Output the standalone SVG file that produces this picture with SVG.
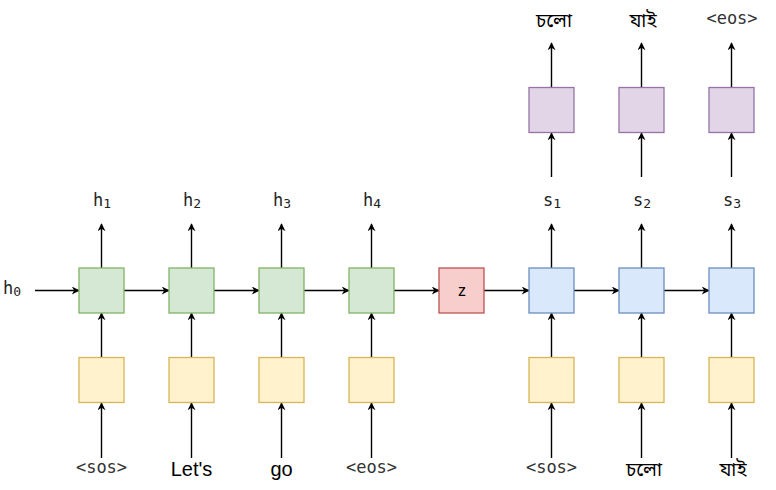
<svg xmlns="http://www.w3.org/2000/svg" width="776" height="490" viewBox="0 0 776 490">
<style>
.g{fill:#d5e8d4;stroke:#82b366;stroke-width:1.3}
.y{fill:#fff2cc;stroke:#d6b656;stroke-width:1.3}
.b{fill:#dae8fc;stroke:#6c8ebf;stroke-width:1.3}
.r{fill:#f8cecc;stroke:#b85450;stroke-width:1.3}
.p{fill:#e1d5e7;stroke:#9673a6;stroke-width:1.3}
.c line{stroke:#000;stroke-width:1.4;marker-end:url(#ah)}
.m{font-family:"DejaVu Sans Mono","Liberation Mono",monospace;font-size:17px;fill:#222;text-anchor:middle}
.mt{font-family:"DejaVu Sans Mono","Liberation Mono",monospace;font-size:17px;fill:#333;text-anchor:middle}
.s{font-family:"Liberation Sans",Arial,sans-serif;font-size:20px;fill:#000;text-anchor:middle}
.bn{font-family:"Noto Sans Bengali","Lohit Bengali","Noto Serif Bengali","Noto Sans",sans-serif;font-size:19px;font-weight:400;fill:#000;text-anchor:middle}
.sub{font-size:13px}
</style>
<defs>
<marker id="ah" viewBox="0 0 10 10" refX="9" refY="5" markerWidth="9" markerHeight="8" markerUnits="userSpaceOnUse" orient="auto">
<path d="M0,0 L10,5 L0,10 L3,5 z" fill="#000"/>
</marker>
</defs>
<g class="c" id="connectors">
<line x1="35" y1="290.5" x2="79" y2="290.5"/>
<line x1="124" y1="290.5" x2="169" y2="290.5"/>
<line x1="214" y1="290.5" x2="259" y2="290.5"/>
<line x1="304" y1="290.5" x2="349" y2="290.5"/>
<line x1="394" y1="290.5" x2="439" y2="290.5"/>
<line x1="484" y1="290.5" x2="529" y2="290.5"/>
<line x1="574" y1="290.5" x2="619" y2="290.5"/>
<line x1="664" y1="290.5" x2="709" y2="290.5"/>
<line x1="101.5" y1="357.5" x2="101.5" y2="313"/>
<line x1="191.5" y1="357.5" x2="191.5" y2="313"/>
<line x1="281.5" y1="357.5" x2="281.5" y2="313"/>
<line x1="371.5" y1="357.5" x2="371.5" y2="313"/>
<line x1="551.5" y1="357.5" x2="551.5" y2="313"/>
<line x1="641.5" y1="357.5" x2="641.5" y2="313"/>
<line x1="731.5" y1="357.5" x2="731.5" y2="313"/>
<line x1="101.5" y1="458" x2="101.5" y2="403"/>
<line x1="191.5" y1="458" x2="191.5" y2="403"/>
<line x1="281.5" y1="458" x2="281.5" y2="403"/>
<line x1="371.5" y1="458" x2="371.5" y2="403"/>
<line x1="551.5" y1="458" x2="551.5" y2="403"/>
<line x1="641.5" y1="458" x2="641.5" y2="403"/>
<line x1="731.5" y1="458" x2="731.5" y2="403"/>
<line x1="101.5" y1="268" x2="101.5" y2="224"/>
<line x1="191.5" y1="268" x2="191.5" y2="224"/>
<line x1="281.5" y1="268" x2="281.5" y2="224"/>
<line x1="371.5" y1="268" x2="371.5" y2="224"/>
<line x1="551.5" y1="268" x2="551.5" y2="224"/>
<line x1="641.5" y1="268" x2="641.5" y2="224"/>
<line x1="731.5" y1="268" x2="731.5" y2="224"/>
<line x1="551.5" y1="177" x2="551.5" y2="133"/>
<line x1="641.5" y1="177" x2="641.5" y2="133"/>
<line x1="731.5" y1="177" x2="731.5" y2="133"/>
<line x1="551.5" y1="87.5" x2="551.5" y2="43"/>
<line x1="641.5" y1="87.5" x2="641.5" y2="43"/>
<line x1="731.5" y1="87.5" x2="731.5" y2="43"/>
</g>
<g id="enc1"><rect class="g" x="79" y="268" width="45" height="45"/></g>
<g id="enc2"><rect class="g" x="169" y="268" width="45" height="45"/></g>
<g id="enc3"><rect class="g" x="259" y="268" width="45" height="45"/></g>
<g id="enc4"><rect class="g" x="349" y="268" width="45" height="45"/></g>
<g id="z"><rect class="r" x="439" y="268" width="45" height="45"/><text x="462" y="296" font-family="Liberation Sans,Arial,sans-serif" font-size="16" text-anchor="middle" fill="#000">z</text></g>
<g id="dec1"><rect class="b" x="529" y="268" width="45" height="45"/></g>
<g id="dec2"><rect class="b" x="619" y="268" width="45" height="45"/></g>
<g id="dec3"><rect class="b" x="709" y="268" width="45" height="45"/></g>
<g id="emb1"><rect class="y" x="79" y="357.5" width="45" height="45"/></g>
<g id="emb2"><rect class="y" x="169" y="357.5" width="45" height="45"/></g>
<g id="emb3"><rect class="y" x="259" y="357.5" width="45" height="45"/></g>
<g id="emb4"><rect class="y" x="349" y="357.5" width="45" height="45"/></g>
<g id="emb5"><rect class="y" x="529" y="357.5" width="45" height="45"/></g>
<g id="emb6"><rect class="y" x="619" y="357.5" width="45" height="45"/></g>
<g id="emb7"><rect class="y" x="709" y="357.5" width="45" height="45"/></g>
<g id="out1"><rect class="p" x="529" y="87.5" width="45" height="45"/></g>
<g id="out2"><rect class="p" x="619" y="87.5" width="45" height="45"/></g>
<g id="out3"><rect class="p" x="709" y="87.5" width="45" height="45"/></g>
<g id="labels">
<text class="m" x="12" y="294">h<tspan class="sub" dy="2">0</tspan></text>
<text class="m" x="102" y="206">h<tspan class="sub" dy="2">1</tspan></text>
<text class="m" x="192" y="206">h<tspan class="sub" dy="2">2</tspan></text>
<text class="m" x="282" y="206">h<tspan class="sub" dy="2">3</tspan></text>
<text class="m" x="372" y="206">h<tspan class="sub" dy="2">4</tspan></text>
<text class="m" x="552" y="206">s<tspan class="sub" dy="2">1</tspan></text>
<text class="m" x="642" y="206">s<tspan class="sub" dy="2">2</tspan></text>
<text class="m" x="732" y="206">s<tspan class="sub" dy="2">3</tspan></text>
<text class="mt" x="101.5" y="473">&lt;sos&gt;</text>
<text class="s" x="191.5" y="476">Let's</text>
<text class="s" x="281.5" y="476">go</text>
<text class="mt" x="371.5" y="473">&lt;eos&gt;</text>
<text class="mt" x="551.5" y="473">&lt;sos&gt;</text>
<text class="bn" x="644" y="476">চলো</text>
<text class="bn" x="733" y="476">যাই</text>
<text class="bn" x="554" y="27">চলো</text>
<text class="bn" x="643" y="27">যাই</text>
<text class="mt" x="732" y="24">&lt;eos&gt;</text>
</g>
</svg>
